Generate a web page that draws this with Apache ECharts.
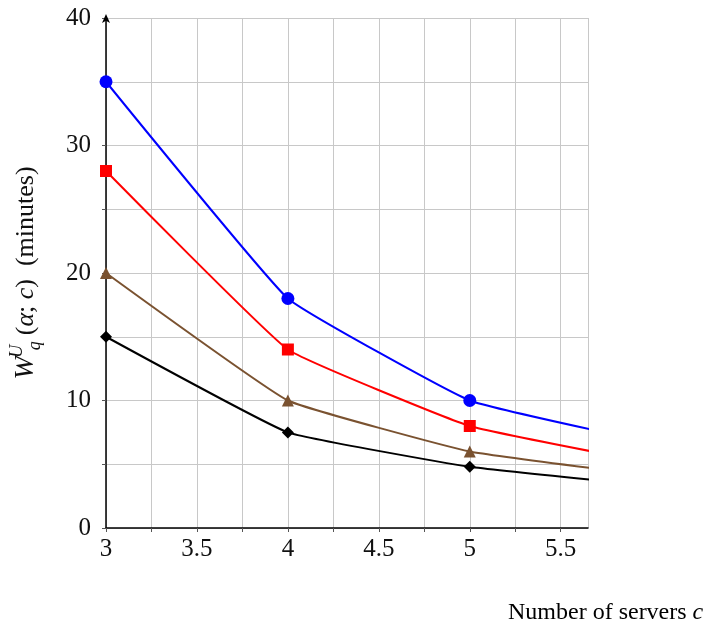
<!DOCTYPE html>
<html>
<head>
<meta charset="utf-8">
<script src="https://cdn.jsdelivr.net/npm/echarts@6/dist/echarts.min.js"></script>
<style>html,body{margin:0;padding:0;background:#fff}#c{width:711px;height:626px}</style>
</head>
<body>
<div id="c"></div>
<script>
// Number of servers c
const servers = [3, 4, 5, 6];
// Series values (minutes)
const blueVals  = [35, 18, 10, 6.7];
const redVals   = [28, 14, 8, 5.1];
const brownVals = [20, 10, 6, 4.1];
const blackVals = [15, 7.5, 4.8, 3.3];
const xTickLabels = ['3', '3.5', '4', '4.5', '5', '5.5'];
const yTickLabels = ['0', '10', '20', '30', '40'];

const serif = '"Liberation Serif", "DejaVu Serif", serif';
const chart = echarts.init(document.getElementById('c'));

function pairs(vals) { return servers.map((c, i) => [c, vals[i]]); }
function mk(name, vals, color, symbol, size) {
  return {
    name, type: 'line', data: pairs(vals), smooth: 0.1,
    symbol, symbolSize: size, clip: true,
    lineStyle: { color, width: 2 },
    itemStyle: { color },
    emphasis: { disabled: true }, z: 3
  };
}

chart.setOption({
  animation: false,
  grid: { left: 105, right: 123, top: 18, bottom: 98, containLabel: false },
  xAxis: {
    type: 'value', min: 3, max: 5.65, interval: 0.25,
    axisLine: { show: true, onZero: false, lineStyle: { color: '#000', width: 1.5 } },
    axisTick: { show: true, length: 4, lineStyle: { color: '#555' } },
    axisLabel: {
      margin: 9, color: '#111', fontFamily: serif, fontSize: 25,
      showMaxLabel: false,
      formatter: v => { const s = String(+v.toFixed(2)); return xTickLabels.includes(s) ? s : ''; }
    },
    splitLine: { show: true, lineStyle: { color: '#c8c8c8', width: 1 } }
  },
  yAxis: {
    type: 'value', min: 0, max: 40, interval: 5,
    axisLine: { show: true, onZero: false, symbol: ['none', 'arrow'], symbolSize: [6, 9], symbolOffset: [0, 4],
      lineStyle: { color: '#000', width: 1.5 } },
    axisTick: { show: true, length: 4, lineStyle: { color: '#555' } },
    axisLabel: {
      margin: 15, color: '#111', fontFamily: serif, fontSize: 25,
      formatter: v => { const s = String(v); return yTickLabels.includes(s) ? s : ''; }
    },
    splitLine: { show: true, lineStyle: { color: '#c8c8c8', width: 1 } },
    name: '{w|W}{sup|U}{sub|q}{r|(}{it|α}{r|; }{it|c}{r|)  (minutes)}',
    nameLocation: 'middle', nameGap: 62, nameRotate: 90,
    nameTextStyle: {
      color: '#111', fontFamily: serif, fontSize: 26,
      rich: {
        w: { fontFamily: serif, fontSize: 28, fontStyle: 'italic', color: '#111', lineHeight: 36, verticalAlign: 'middle' },
        sup: { fontFamily: serif, fontSize: 18, fontStyle: 'italic', color: '#111', verticalAlign: 'top', lineHeight: 36, width: 2, padding: [0, 0, 0, 4] },
        sub: { fontFamily: serif, fontSize: 18, fontStyle: 'italic', color: '#111', verticalAlign: 'bottom', lineHeight: 36, padding: [0, 6, 0, 0] },
        it: { fontFamily: serif, fontSize: 26, fontStyle: 'italic', color: '#111', lineHeight: 36, verticalAlign: 'middle' },
        r: { fontFamily: serif, fontSize: 26, color: '#111', lineHeight: 36, verticalAlign: 'middle' }
      }
    }
  },
  graphic: [{
    type: 'text', left: 508, top: 601,
    style: {
      text: '{a|Number of servers }{b|c}',
      rich: {
        a: { fontFamily: serif, fontSize: 24, fill: '#000' },
        b: { fontFamily: serif, fontSize: 24, fontStyle: 'italic', fill: '#000' }
      }
    }
  }],
  series: [
    mk('blue', blueVals, '#0000ff', 'circle', 13),
    mk('red', redVals, '#ff0000', 'rect', 12),
    mk('brown', brownVals, '#7a5230', 'triangle', 12),
    mk('black', blackVals, '#000000', 'diamond', 12)
  ]
});
</script>
</body>
</html>
